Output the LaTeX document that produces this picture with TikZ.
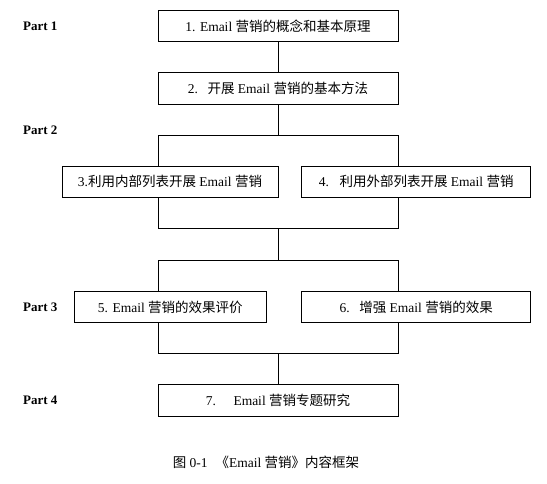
\documentclass[tikz,border=0pt]{standalone}
\usepackage{fontspec}
\setmainfont{Liberation Serif}
\newfontfamily\cjk{Noto Sans CJK SC}
\usepackage{tikz}
\usetikzlibrary{positioning,calc}
\newcommand{\zh}[1]{{\cjk #1}}
\tikzset{
  stage/.style={draw, line width=1pt, outer sep=0pt, inner sep=0pt, font=\fontsize{13.5}{16}\selectfont},
  part/.style={anchor=west, inner sep=0pt, font=\fontsize{13}{15}\selectfont\bfseries},
  link/.style={line width=1pt}
}

\begin{document}
\begin{tikzpicture}[x=1pt, y=-1pt]
        \useasboundingbox (0,0) rectangle (547,483);
        % part labels
        \node[part] (p1) at (23,25.8) {Part 1};
        \node[part] (p2) at (23,130) {Part 2};
        \node[part] (p3) at (23,307) {Part 3};
        \node[part] (p4) at (23,400) {Part 4};
        % boxes
        \node[stage, minimum width=240pt, minimum height=31pt] (b1) at (278,25.8) {1. Email \zh{营销的概念和基本原理}};
        \node[stage, minimum width=240pt, minimum height=31.7pt] (b2) at (278,88.2) {2.\hspace{5pt} \zh{开展} Email \zh{营销的基本方法}};
        \node[stage, minimum width=216pt, minimum height=31pt] (b3) at (170,181.8) {3.\zh{利用内部列表开展} Email \zh{营销}};
        \node[stage, minimum width=228.7pt, minimum height=31pt] (b4) at (416.3,181.8) {4.\hspace{6pt} \zh{利用外部列表开展} Email \zh{营销}};
        \node[stage, minimum width=192pt, minimum height=30.6pt] (b5) at (170.3,307) {5. Email \zh{营销的效果评价}};
        \node[stage, minimum width=228.7pt, minimum height=30.6pt] (b6) at (416.3,307) {6.\hspace{5pt} \zh{增强} Email \zh{营销的效果}};
        \node[stage, minimum width=240pt, minimum height=32pt] (b7) at (278,400) {7.\hspace{13pt} Email \zh{营销专题研究}};
        % junctions
        \coordinate (j1) at (278,135);
        \coordinate (j2) at (278,228.3);
        \coordinate (j3) at (278,260.3);
        \coordinate (j4) at (278,353);
        % connectors
        \draw[link] (b1) -- (b2);
        \draw[link] (b2) -- (j1);
        \draw[link] (b3.north -| b1.west) -- (j1 -| b1.west) -- (j1 -| b1.east) -- (b4.north -| b1.east);
        \draw[link] (b3.south -| b1.west) -- (j2 -| b1.west) -- (j2 -| b1.east) -- (b4.south -| b1.east);
        \draw[link] (j2) -- (j3);
        \draw[link] (b5.north -| b1.west) -- (j3 -| b1.west) -- (j3 -| b1.east) -- (b6.north -| b1.east);
        \draw[link] (b5.south -| b1.west) -- (j4 -| b1.west) -- (j4 -| b1.east) -- (b6.south -| b1.east);
        \draw[link] (j4) -- (b7);
        % caption
        \node[font=\fontsize{13.5}{16}\selectfont] (cap) at (266,462) {\zh{图} 0-1\hspace{8pt}\zh{《}Email \zh{营销》内容框架}};
    \end{tikzpicture}
\end{document}
